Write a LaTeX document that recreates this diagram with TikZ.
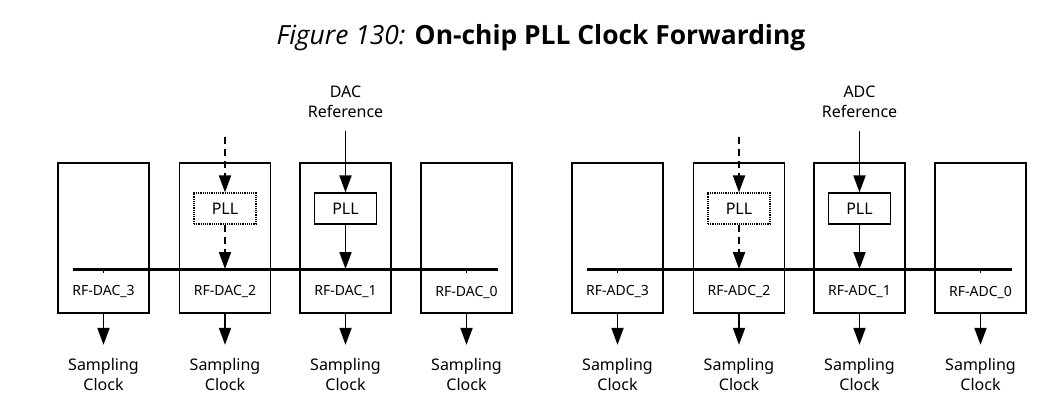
\documentclass[tikz,border=0pt]{standalone}
\usepackage{fontspec}
\setmainfont{Noto Sans}
\newfontfamily\titlefont{Open Sans}
\usepackage{tikz}
\usetikzlibrary{arrows.meta,positioning,calc}

\begin{document}
\begin{tikzpicture}[x=1pt,y=-1pt,
blk/.style={draw,line width=1.2pt,minimum width=91pt,minimum height=150pt,inner sep=0pt},
pll/.style={draw,line width=1.2pt,minimum width=62pt,minimum height=31pt,inner sep=0pt,font=\fontsize{16}{18}\selectfont},
lbl/.style={inner sep=0pt,font=\fontsize{14}{16}\selectfont},
txt/.style={align=center,inner sep=0pt,outer ysep=13pt,font=\fontsize{16}{20}\selectfont},
arr/.style={line width=1.9pt,-{Triangle[length=17pt,width=12pt]}},
dsh/.style={dash pattern=on 7pt off 5pt},
bus/.style={line width=3pt}]
\useasboundingbox (0,0) rectangle (1064,415);
\node[font=\titlefont\fontsize{26.4}{30}\selectfont] (title) at (541,38) {\textit{Figure 130:} \textbf{On-chip PLL Clock Forwarding}};
% converter slices
\foreach \g/\t/\o in {d/DAC/0,a/ADC/514}{
  \foreach \i/\x in {3/103.5,2/225,1/345.5,0/466.5}{
    \node[blk] (\g\i) at (\x+\o,238) {};
    \node[lbl] (\g\i-l) at (\x+\o,292) {RF-\t\_\i};
    \coordinate (\g\i-b) at (\x+\o,269);
    \node[txt] (\g\i-s) at (\x+\o,374) {Sampling\\Clock};
    \draw[arr] (\g\i.south) -- (\g\i-s);
  }
  \coordinate (\g-w) at (73+\o,269);
  \coordinate (\g-e) at (498+\o,269);
  \draw[bus] (\g-w) -- (\g-e);
  \foreach \i in {3,0}{\draw[line width=1.2pt] (\g\i-b) -- ++(0,4);}
  % PLLs
  \node[pll,densely dotted] (\g p2) at (225+\o,208.5) {PLL};
  \node[pll] (\g p1) at (345.5+\o,208.5) {PLL};
  \node[txt] (\g ref) at (345.5+\o,102) {\t\\Reference};
  \coordinate (\g top) at (225+\o,137);
  \draw[arr,dsh] (\g top) -- (\g p2);
  \draw[arr,dsh] (\g p2) -- (\g2-b);
  \draw[arr] (\g ref) -- (\g p1);
  \draw[arr] (\g p1) -- (\g1-b);
}
\end{tikzpicture}
\end{document}
